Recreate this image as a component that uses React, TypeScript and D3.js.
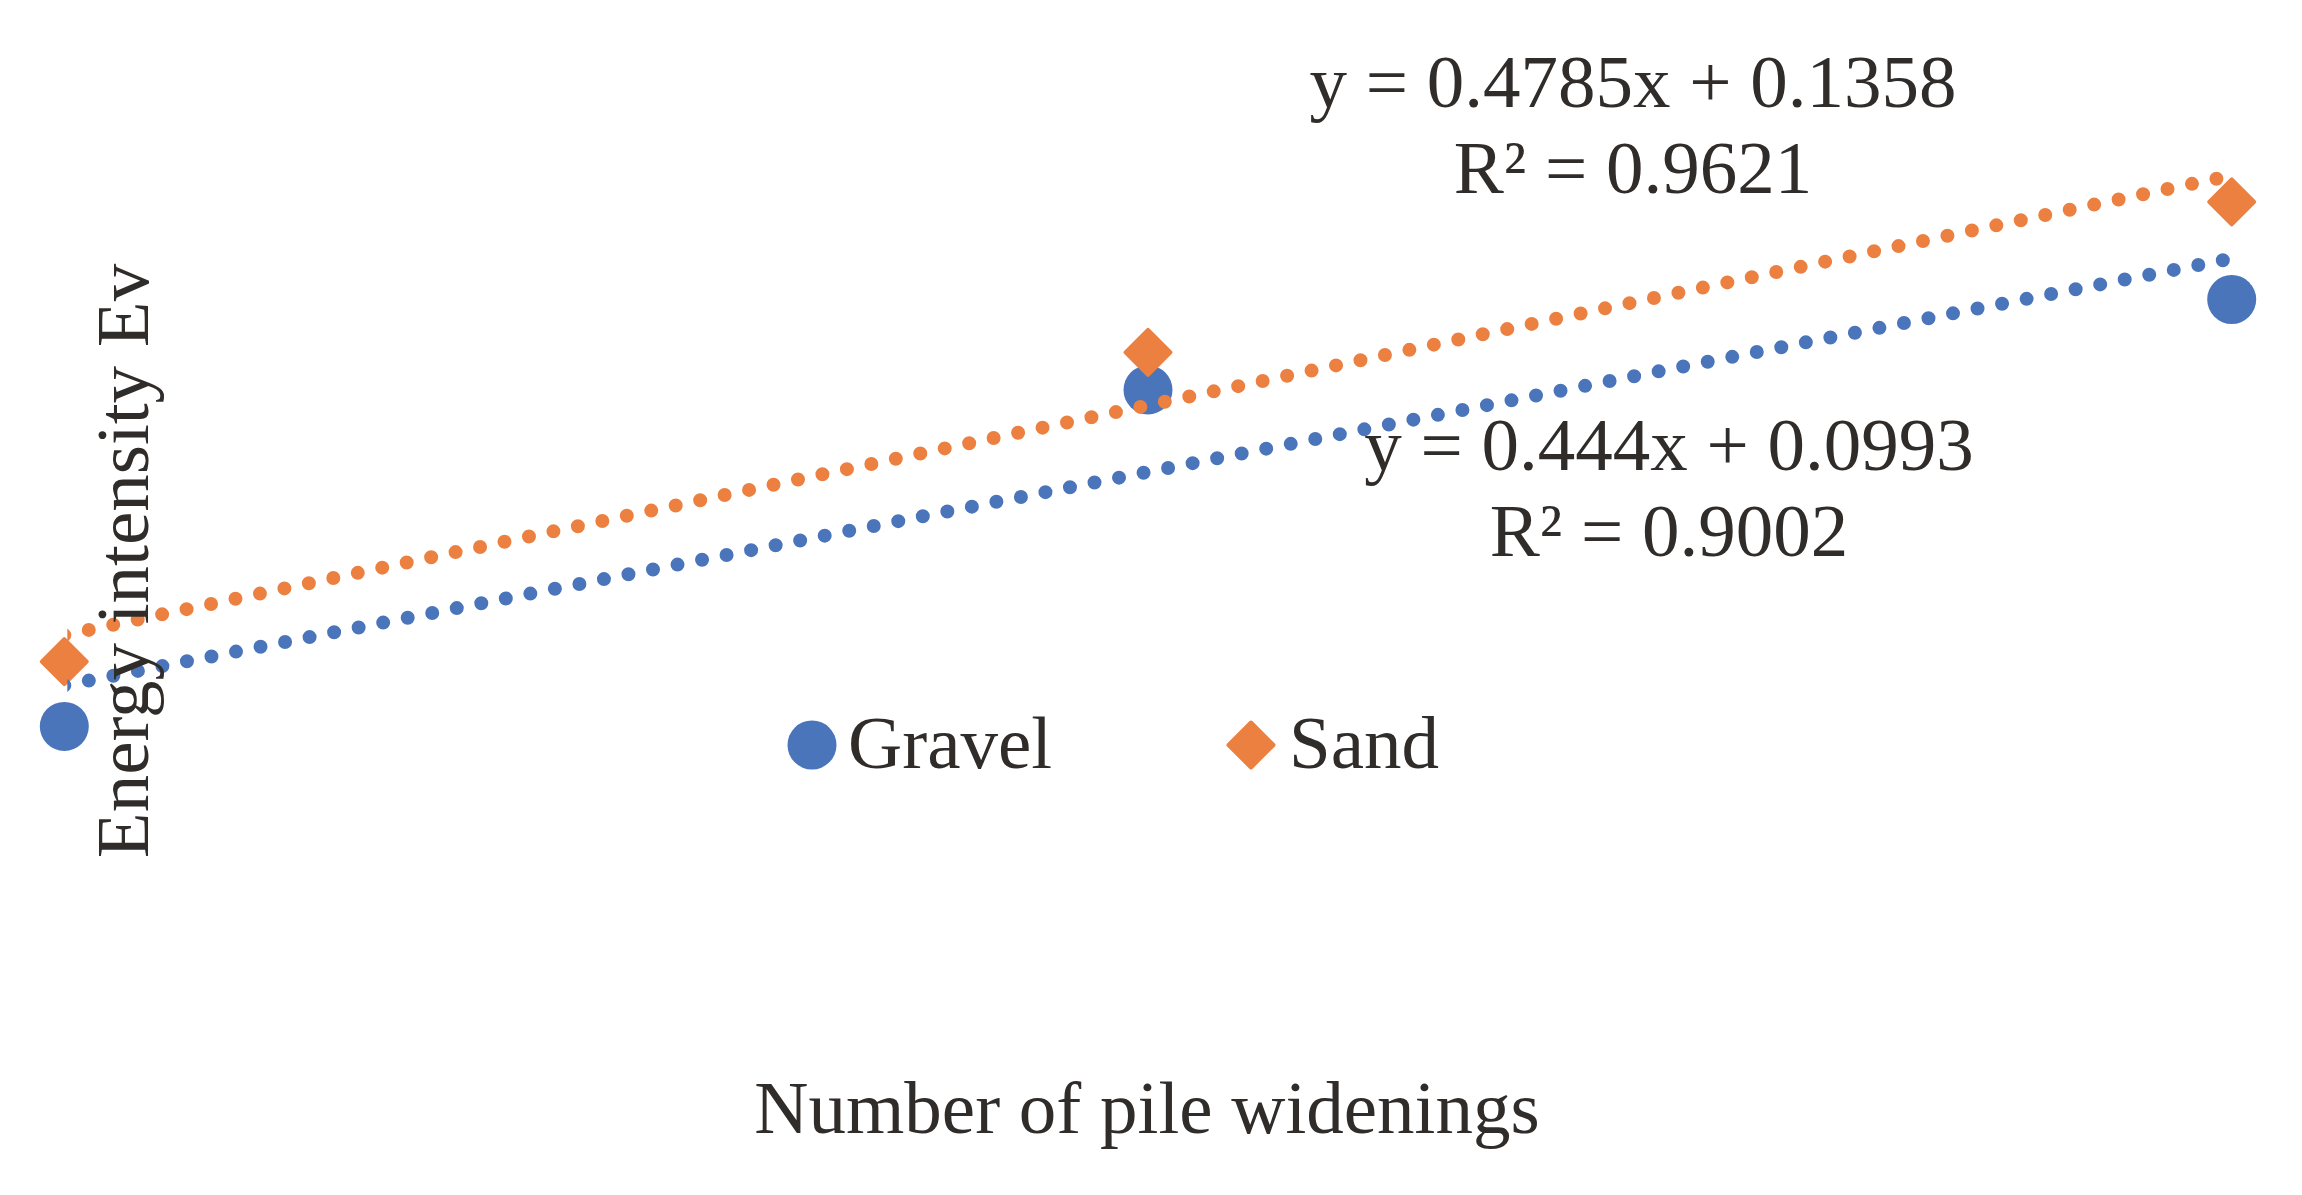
import React from "react";
import * as d3 from "d3";

// ---- data ----
const xValues = [1, 2, 3];
const gravelValues = [0.44, 1.14, 1.328];
const sandValues = [0.575, 1.218, 1.531];
const seriesNames = ["Gravel", "Sand"];
const seriesColors = ["#4a75ba", "#ec8040"];
const gravelEquation = ["y = 0.444x + 0.0993", "R² = 0.9002"];
const sandEquation = ["y = 0.4785x + 0.1358", "R² = 0.9621"];
const xAxisTitle = "Number of pile widenings";
const yAxisTitle = "Energy intensity Ev";

const W = 2302;
const H = 1195;
const FONT = "'Liberation Serif', 'Times New Roman', serif";
const TEXT = "#302c2a";

function fit(xs: number[], ys: number[]) {
  const mx = d3.mean(xs) as number;
  const my = d3.mean(ys) as number;
  let num = 0;
  let den = 0;
  xs.forEach((x, i) => {
    num += (x - mx) * (ys[i] - my);
    den += (x - mx) * (x - mx);
  });
  const slope = num / den;
  return { slope, intercept: my - slope * mx };
}

export default function App() {
  const xScale = d3.scaleLinear().domain([1, 3]).range([64.3, 2231.7]);
  const yScale = d3.scaleLinear().domain([0, 1.8]).range([938, 72.56]);

  const series = [
    { name: seriesNames[0], color: seriesColors[0], values: gravelValues, shape: "circle" },
    { name: seriesNames[1], color: seriesColors[1], values: sandValues, shape: "diamond" },
  ];

  const circlePath = d3.symbol().type(d3.symbolCircle).size(Math.PI * 24.5 * 24.5)()!;
  const squarePath = d3.symbol().type(d3.symbolSquare).size(31.8 * 31.8)()!;

  const marker = (shape: string, color: string, cx: number, cy: number, key: string) =>
    shape === "circle" ? (
      <path key={key} d={circlePath} transform={`translate(${cx},${cy})`} fill={color} />
    ) : (
      <path
        key={key}
        d={squarePath}
        transform={`translate(${cx},${cy}) rotate(45)`}
        fill={color}
        stroke={color}
        strokeWidth={4}
        strokeLinejoin="round"
      />
    );

  const line = d3
    .line<[number, number]>()
    .x((d) => xScale(d[0]))
    .y((d) => yScale(d[1]));

  const xMin = d3.min(xValues) as number;
  const xMax = d3.max(xValues) as number;

  const equations = [
    { lines: gravelEquation, cx: 1669, baseline: 470 },
    { lines: sandEquation, cx: 1633, baseline: 107 },
  ];

  const legendItems = [
    { mx: 812, tx: 848 },
    { mx: 1251, tx: 1289 },
  ];

  return (
    <svg
      width={W}
      height={H}
      viewBox={`0 0 ${W} ${H}`}
      style={{ position: "absolute", left: 0, top: 0, display: "block", background: "#fff" }}
    >
      <defs>
        <clipPath id="plotClip">
          <rect x={xScale(xMin) + 3} y={0} width={W} height={H} />
        </clipPath>
      </defs>
      <rect width={W} height={H} fill="#fff" />

      {/* markers */}
      {series.map((s) =>
        s.values.map((v, i) => marker(s.shape, s.color, xScale(xValues[i]), yScale(v), `${s.name}-${i}`))
      )}

      {/* trendlines */}
      <g clipPath="url(#plotClip)">
        {series.map((s) => {
          const f = fit(xValues, s.values);
          const pts: [number, number][] = [
            [xMin, f.intercept + f.slope * xMin],
            [xMax, f.intercept + f.slope * xMax],
          ];
          return (
            <path
              key={`trend-${s.name}`}
              d={line(pts)!}
              fill="none"
              stroke={s.color}
              strokeWidth={14}
              strokeLinecap="round"
              strokeDasharray="0 25"
            />
          );
        })}
      </g>

      {/* equations */}
      {equations.map((e, k) => (
        <text key={`eq-${k}`} fontFamily={FONT} fontSize={75} fill={TEXT} textAnchor="middle">
          {e.lines.map((l, j) => (
            <tspan key={j} x={e.cx} y={e.baseline + j * 86}>
              {l}
            </tspan>
          ))}
        </text>
      ))}

      {/* legend */}
      {series.map((s, i) => (
        <g key={`leg-${s.name}`}>
          {marker(s.shape, s.color, legendItems[i].mx, 745, `lm-${i}`)}
          <text x={legendItems[i].tx} y={768} fontFamily={FONT} fontSize={75} fill={TEXT}>
            {s.name}
          </text>
        </g>
      ))}

      {/* axis titles */}
      <text x={1147} y={1133} fontFamily={FONT} fontSize={75} fill={TEXT} textAnchor="middle">
        {xAxisTitle}
      </text>
      <text
        transform="translate(148,561) rotate(-90)"
        fontFamily={FONT}
        fontSize={75}
        fill={TEXT}
        textAnchor="middle"
      >
        {yAxisTitle}
      </text>
    </svg>
  );
}
